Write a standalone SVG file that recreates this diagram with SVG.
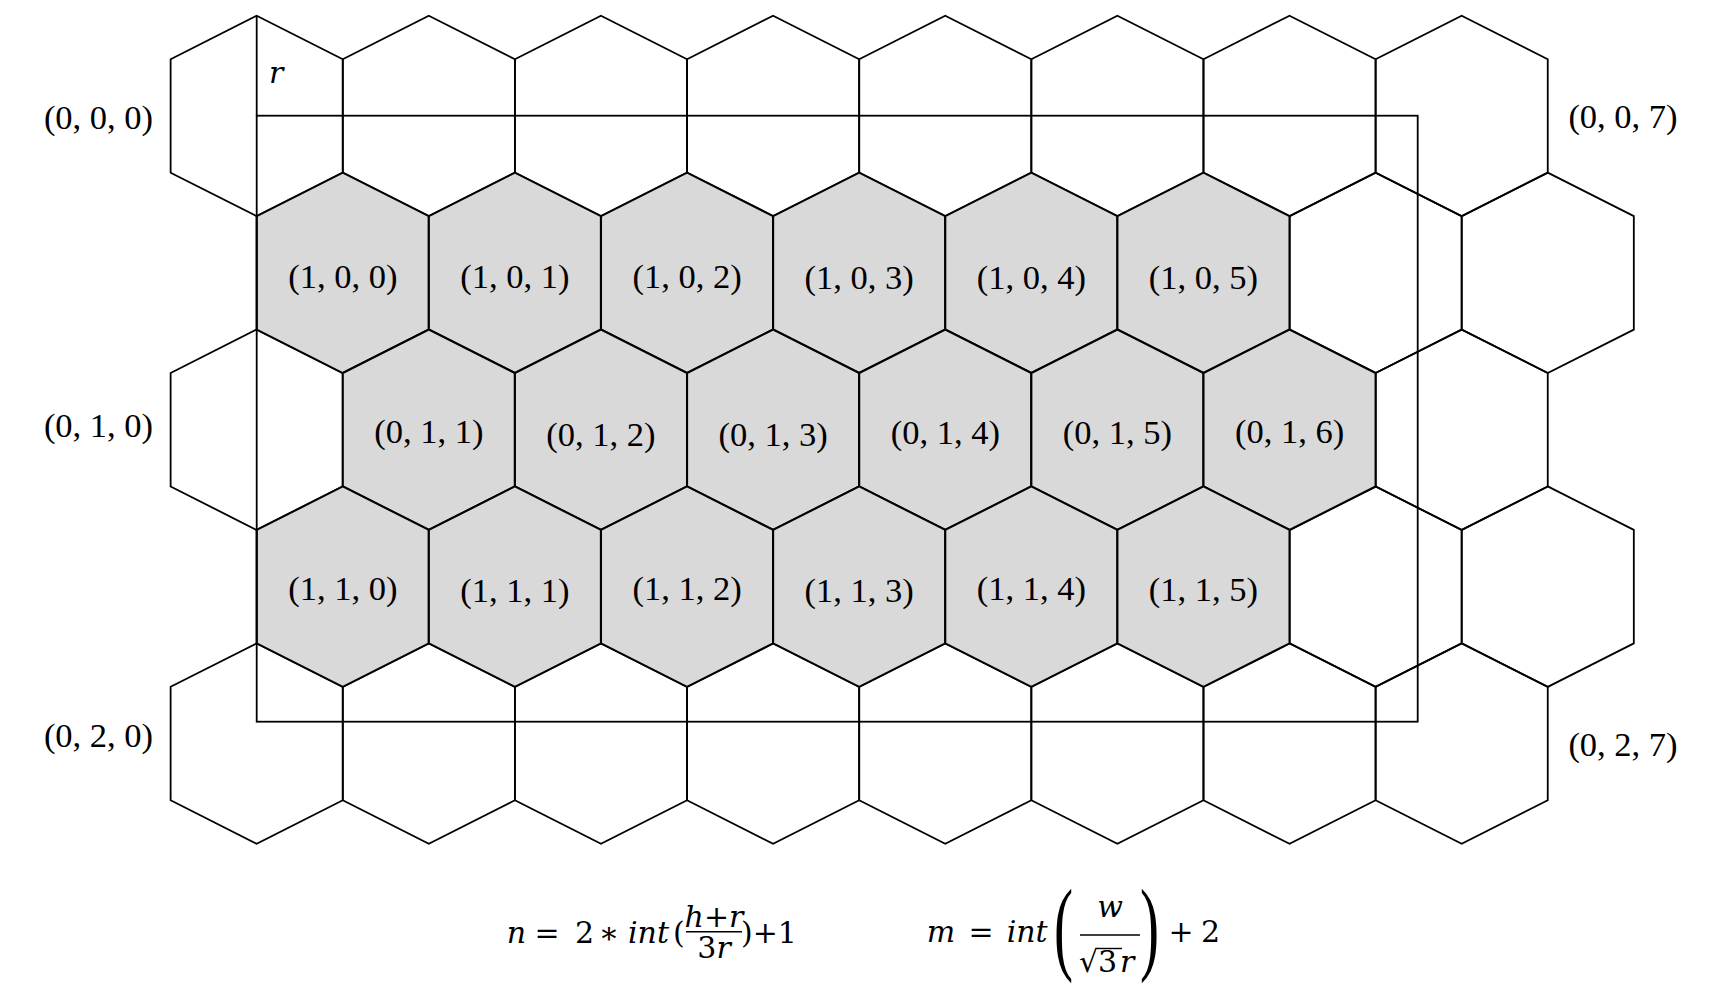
<svg xmlns="http://www.w3.org/2000/svg" xmlns:xlink="http://www.w3.org/1999/xlink" width="1723" height="994" viewBox="0 0 1723 994">
<style>
.w{fill:none;stroke:#000;stroke-width:1.8;stroke-linejoin:miter}
.g{fill:#d9d9d9;stroke:#000;stroke-width:2.1;stroke-linejoin:miter}
.lb{font-family:"Liberation Serif","Times New Roman",serif;font-size:34.5px;fill:#000;text-anchor:middle}
.m{font-family:"DejaVu Serif","Liberation Serif",serif;font-size:30px;fill:#000}
.i{font-style:italic}
.ln{stroke:#000;stroke-width:1.8;fill:none}
.bar{stroke:#000;stroke-width:1.4}
</style>
<defs>
<path id="hx" d="M0,0 L86.07,43.5 L86.07,157 L0,200.5 L-86.07,157 L-86.07,43.5 Z"/>
</defs>
<rect width="1723" height="994" fill="#fff"/>
<g id="white-hexes">
<g id="h-r0-c0"><use xlink:href="#hx" x="256.7" y="15.7" class="w"/></g>
<g id="h-r0-c1"><use xlink:href="#hx" x="428.84" y="15.7" class="w"/></g>
<g id="h-r0-c2"><use xlink:href="#hx" x="600.98" y="15.7" class="w"/></g>
<g id="h-r0-c3"><use xlink:href="#hx" x="773.12" y="15.7" class="w"/></g>
<g id="h-r0-c4"><use xlink:href="#hx" x="945.26" y="15.7" class="w"/></g>
<g id="h-r0-c5"><use xlink:href="#hx" x="1117.4" y="15.7" class="w"/></g>
<g id="h-r0-c6"><use xlink:href="#hx" x="1289.54" y="15.7" class="w"/></g>
<g id="h-r0-c7"><use xlink:href="#hx" x="1461.68" y="15.7" class="w"/></g>
<g id="h-r1-c6"><use xlink:href="#hx" x="1375.61" y="172.6" class="w"/></g>
<g id="h-r1-c7"><use xlink:href="#hx" x="1547.75" y="172.6" class="w"/></g>
<g id="h-r2-c0"><use xlink:href="#hx" x="256.7" y="329.5" class="w"/></g>
<g id="h-r2-c7"><use xlink:href="#hx" x="1461.68" y="329.5" class="w"/></g>
<g id="h-r3-c6"><use xlink:href="#hx" x="1375.61" y="486.4" class="w"/></g>
<g id="h-r3-c7"><use xlink:href="#hx" x="1547.75" y="486.4" class="w"/></g>
<g id="h-r4-c0"><use xlink:href="#hx" x="256.7" y="643.3" class="w"/></g>
<g id="h-r4-c1"><use xlink:href="#hx" x="428.84" y="643.3" class="w"/></g>
<g id="h-r4-c2"><use xlink:href="#hx" x="600.98" y="643.3" class="w"/></g>
<g id="h-r4-c3"><use xlink:href="#hx" x="773.12" y="643.3" class="w"/></g>
<g id="h-r4-c4"><use xlink:href="#hx" x="945.26" y="643.3" class="w"/></g>
<g id="h-r4-c5"><use xlink:href="#hx" x="1117.4" y="643.3" class="w"/></g>
<g id="h-r4-c6"><use xlink:href="#hx" x="1289.54" y="643.3" class="w"/></g>
<g id="h-r4-c7"><use xlink:href="#hx" x="1461.68" y="643.3" class="w"/></g>
</g>
<g id="shaded-hexes">
<g id="h-1-0-0"><use xlink:href="#hx" x="342.77" y="172.6" class="g"/><text class="lb" x="342.77" y="288">(1, 0, 0)</text></g>
<g id="h-1-0-1"><use xlink:href="#hx" x="514.91" y="172.6" class="g"/><text class="lb" x="514.91" y="288">(1, 0, 1)</text></g>
<g id="h-1-0-2"><use xlink:href="#hx" x="687.05" y="172.6" class="g"/><text class="lb" x="687.05" y="288">(1, 0, 2)</text></g>
<g id="h-1-0-3"><use xlink:href="#hx" x="859.19" y="172.6" class="g"/><text class="lb" x="859.19" y="289">(1, 0, 3)</text></g>
<g id="h-1-0-4"><use xlink:href="#hx" x="1031.33" y="172.6" class="g"/><text class="lb" x="1031.33" y="289">(1, 0, 4)</text></g>
<g id="h-1-0-5"><use xlink:href="#hx" x="1203.47" y="172.6" class="g"/><text class="lb" x="1203.47" y="289">(1, 0, 5)</text></g>
<g id="h-0-1-1"><use xlink:href="#hx" x="428.84" y="329.5" class="g"/><text class="lb" x="428.84" y="443">(0, 1, 1)</text></g>
<g id="h-0-1-2"><use xlink:href="#hx" x="600.98" y="329.5" class="g"/><text class="lb" x="600.98" y="446">(0, 1, 2)</text></g>
<g id="h-0-1-3"><use xlink:href="#hx" x="773.12" y="329.5" class="g"/><text class="lb" x="773.12" y="446">(0, 1, 3)</text></g>
<g id="h-0-1-4"><use xlink:href="#hx" x="945.26" y="329.5" class="g"/><text class="lb" x="945.26" y="444">(0, 1, 4)</text></g>
<g id="h-0-1-5"><use xlink:href="#hx" x="1117.4" y="329.5" class="g"/><text class="lb" x="1117.4" y="444">(0, 1, 5)</text></g>
<g id="h-0-1-6"><use xlink:href="#hx" x="1289.54" y="329.5" class="g"/><text class="lb" x="1289.54" y="443">(0, 1, 6)</text></g>
<g id="h-1-1-0"><use xlink:href="#hx" x="342.77" y="486.4" class="g"/><text class="lb" x="342.77" y="600">(1, 1, 0)</text></g>
<g id="h-1-1-1"><use xlink:href="#hx" x="514.91" y="486.4" class="g"/><text class="lb" x="514.91" y="602">(1, 1, 1)</text></g>
<g id="h-1-1-2"><use xlink:href="#hx" x="687.05" y="486.4" class="g"/><text class="lb" x="687.05" y="600">(1, 1, 2)</text></g>
<g id="h-1-1-3"><use xlink:href="#hx" x="859.19" y="486.4" class="g"/><text class="lb" x="859.19" y="602">(1, 1, 3)</text></g>
<g id="h-1-1-4"><use xlink:href="#hx" x="1031.33" y="486.4" class="g"/><text class="lb" x="1031.33" y="600">(1, 1, 4)</text></g>
<g id="h-1-1-5"><use xlink:href="#hx" x="1203.47" y="486.4" class="g"/><text class="lb" x="1203.47" y="601">(1, 1, 5)</text></g>
</g>
<g id="connectors">
<rect x="256.7" y="115.7" width="1161" height="606" class="ln"/>
<line x1="256.7" y1="15.7" x2="256.7" y2="115.7" class="ln"/>
</g>
<g id="labels">
<text class="m i" x="269" y="83.3" font-size="29">r</text>
<text class="lb" x="98.5" y="129">(0, 0, 0)</text>
<text class="lb" x="98.5" y="437">(0, 1, 0)</text>
<text class="lb" x="98.5" y="747">(0, 2, 0)</text>
<text class="lb" x="1623" y="128">(0, 0, 7)</text>
<text class="lb" x="1623" y="756">(0, 2, 7)</text>
</g>
<g id="formula-n">
<text class="m i" x="506.7" y="942.7">n</text>
<text class="m" x="547" y="942.7" text-anchor="middle">=</text>
<text class="m" x="575" y="942.7">2</text>
<text class="m" x="609" y="942.7" text-anchor="middle">∗</text>
<text class="m i" x="628" y="942.7">int</text>
<text class="m" x="673" y="942.7">(</text>
<line x1="686" y1="931.7" x2="742" y2="931.7" class="bar"/>
<text class="m" x="714" y="926.7" font-size="18" text-anchor="middle"><tspan class="i">h</tspan>+<tspan class="i">r</tspan></text>
<text class="m" x="714" y="958" font-size="19" text-anchor="middle">3<tspan class="i">r</tspan></text>
<text class="m" x="741" y="942.7">)+1</text>
</g>
<g id="formula-m">
<text class="m i" x="926.7" y="941.7">m</text>
<text class="m" x="981" y="941.7" text-anchor="middle">=</text>
<text class="m i" x="1006.7" y="941.7">int</text>
<text transform="translate(1054,961) scale(0.55,1)" font-family="Liberation Serif, serif" font-size="104" x="0" y="0">(</text>
<line x1="1080" y1="935" x2="1140" y2="935" class="bar"/>
<text class="m i" x="1110" y="916.7" text-anchor="middle">w</text>
<text class="m" x="1079" y="971.7">√</text>
<line x1="1097" y1="948.5" x2="1122" y2="948.5" class="bar"/>
<text class="m" x="1098" y="971.7">3</text>
<text class="m i" x="1120" y="971.7">r</text>
<text transform="translate(1140,961) scale(0.55,1)" font-family="Liberation Serif, serif" font-size="104" x="0" y="0">)</text>
<text class="m" x="1181" y="941.7" text-anchor="middle">+</text>
<text class="m" x="1201" y="941.7">2</text>
</g>
</svg>
